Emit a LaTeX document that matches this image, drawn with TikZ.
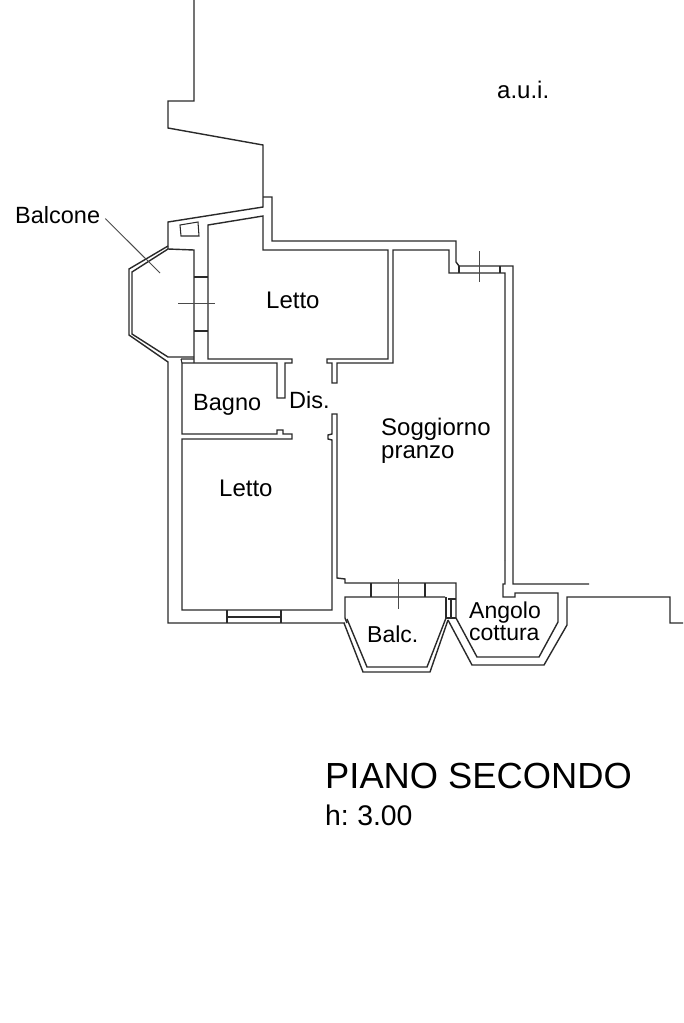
\documentclass[tikz,border=0pt]{standalone}
\usepackage{fontspec}
\setmainfont{Liberation Sans}
\definecolor{ink}{HTML}{2A2A2A}
\tikzset{
  wall/.style={draw=ink,line width=1.4pt,line join=miter},
  thin wall/.style={draw=ink,line width=1.05pt},
  axisline/.style={draw=ink!85,line width=0.95pt},
  label/.style={inner sep=0pt,anchor=base west,text=black,font=\fontsize{23.5}{28}\selectfont},
  small label/.style={inner sep=0pt,anchor=base west,text=black,font=\fontsize{23}{28}\selectfont},
  big label/.style={inner sep=0pt,anchor=base west,text=black,font=\fontsize{24}{28}\selectfont},
  title/.style={inner sep=0pt,anchor=base west,text=black,font=\fontsize{36.3}{42}\selectfont},
  subtitle/.style={inner sep=0pt,anchor=base west,text=black,font=\fontsize{28.4}{34}\selectfont}
}
\begin{document}
\begin{tikzpicture}[x=1pt,y=-1pt]
\useasboundingbox (0,0) rectangle (683,1023);
% outer wall, top and right
\path[wall] (194,0) -- (194,101) -- (168,101) -- (168,128) -- (263,145) -- (263,207) -- (168,222) -- (168,249);
\path[wall] (263,197) -- (272,197) -- (272,241) -- (456,241) -- (456,262) -- (459,266) -- (513,266) -- (513,584) -- (589,584);
\path[wall] (505,560) -- (505,273) -- (449,273) -- (449,250) -- (393,250) -- (393,363) -- (337,363) -- (337,383) -- (332,383) -- (332,363) -- (327,363) -- (327,359) -- (388,359) -- (388,250) -- (263,250) -- (263,216) -- (208,225) -- (208,359) -- (292,359) -- (292,363) -- (285,363) -- (285,398) -- (277,398) -- (277,363) -- (182,363) -- (182,434) -- (277,434) -- (277,430) -- (283,430) -- (283,434) -- (292,434) -- (292,439) -- (182,439) -- (182,610) -- (332,610) -- (332,440) -- (328,439) -- (328,435) -- (332,434) -- (332,414) -- (337,414) -- (337,578) -- (345,579) -- (345,583) -- (456,583) -- (456,618);
% west balcony
\path[wall] (168,246) -- (129,269) -- (129,335) -- (168,362) -- (168,623) -- (345,623);
\path[wall] (168,249) -- (132,272) -- (132,334) -- (168,357) -- (194,357);
\path[wall] (168,249) -- (194,250) -- (194,363);
\path[thin wall] (181,359) -- (194,359) (181,359) -- (182,363);
\path[wall] (194,277) -- (208,277) (194,331) -- (208,331);
\path[thin wall] (180,225) -- (198,222) -- (199,236) -- (181,236) -- cycle;
\draw[axisline] (178,303) -- (215,303);
% door mark top right
\path[wall] (459,266) -- (459,273) (500,266) -- (500,273);
\draw[axisline] (479,251) -- (479,282);
% south window
\path[wall] (227,610) -- (227,623) (281,610) -- (281,623);
\path[thin wall] (227,617) -- (281,617);
% south balcony
\path[wall] (445,597) -- (345,597) -- (345,618) -- (347,623);
\path[wall] (344,623) -- (363,672) -- (430,672) -- (448,620);
\path[wall] (347,619) -- (367,667) -- (427,667) -- (446,618);
\path[wall] (371,583) -- (371,597) (425,583) -- (425,597);
\path[thin wall] (446,597) -- (446,618) -- (456,618) (448,599) -- (456,599) (451,599) -- (451,618);
\draw[axisline] (398,579) -- (398,609);
% kitchen
\path[wall] (448,620) -- (472,665) -- (544,665) -- (567,625) -- (567,597) -- (670,597) -- (670,623) -- (683,623);
\path[wall] (456,618) -- (477,657) -- (539,657) -- (558,622) -- (558,593) -- (515,593) -- (515,597) -- (503,597) -- (503,584) -- (505,584) -- (505,560);
% labels
\node[big label] (aui) at (497,98) {a.u.i.};
\node[label] (balcone) at (15,223) {Balcone};
\node[big label] (letto1) at (266,308) {Letto};
\node[label] (bagno) at (193,410) {Bagno};
\node[label] (dis) at (289,408) {Dis.};
\node[big label] (sogg) at (381,435) {Soggiorno};
\node[big label] (pranzo) at (381,458) {pranzo};
\node[big label] (letto2) at (219,496) {Letto};
\node[small label] (angolo) at (469,618) {Angolo};
\node[small label] (cottura) at (469,640) {cottura};
\node[small label] (balc) at (367,642) {Balc.};
\node[title] (piano) at (325,788) {PIANO SECONDO};
\node[subtitle] (height) at (325,825) {h:\kern 0.5pt\ 3.00};
\coordinate (leaderend) at (160,273);
\draw[axisline] (balcone.east) ++(5,4) -- (leaderend);
\end{tikzpicture}
\end{document}
